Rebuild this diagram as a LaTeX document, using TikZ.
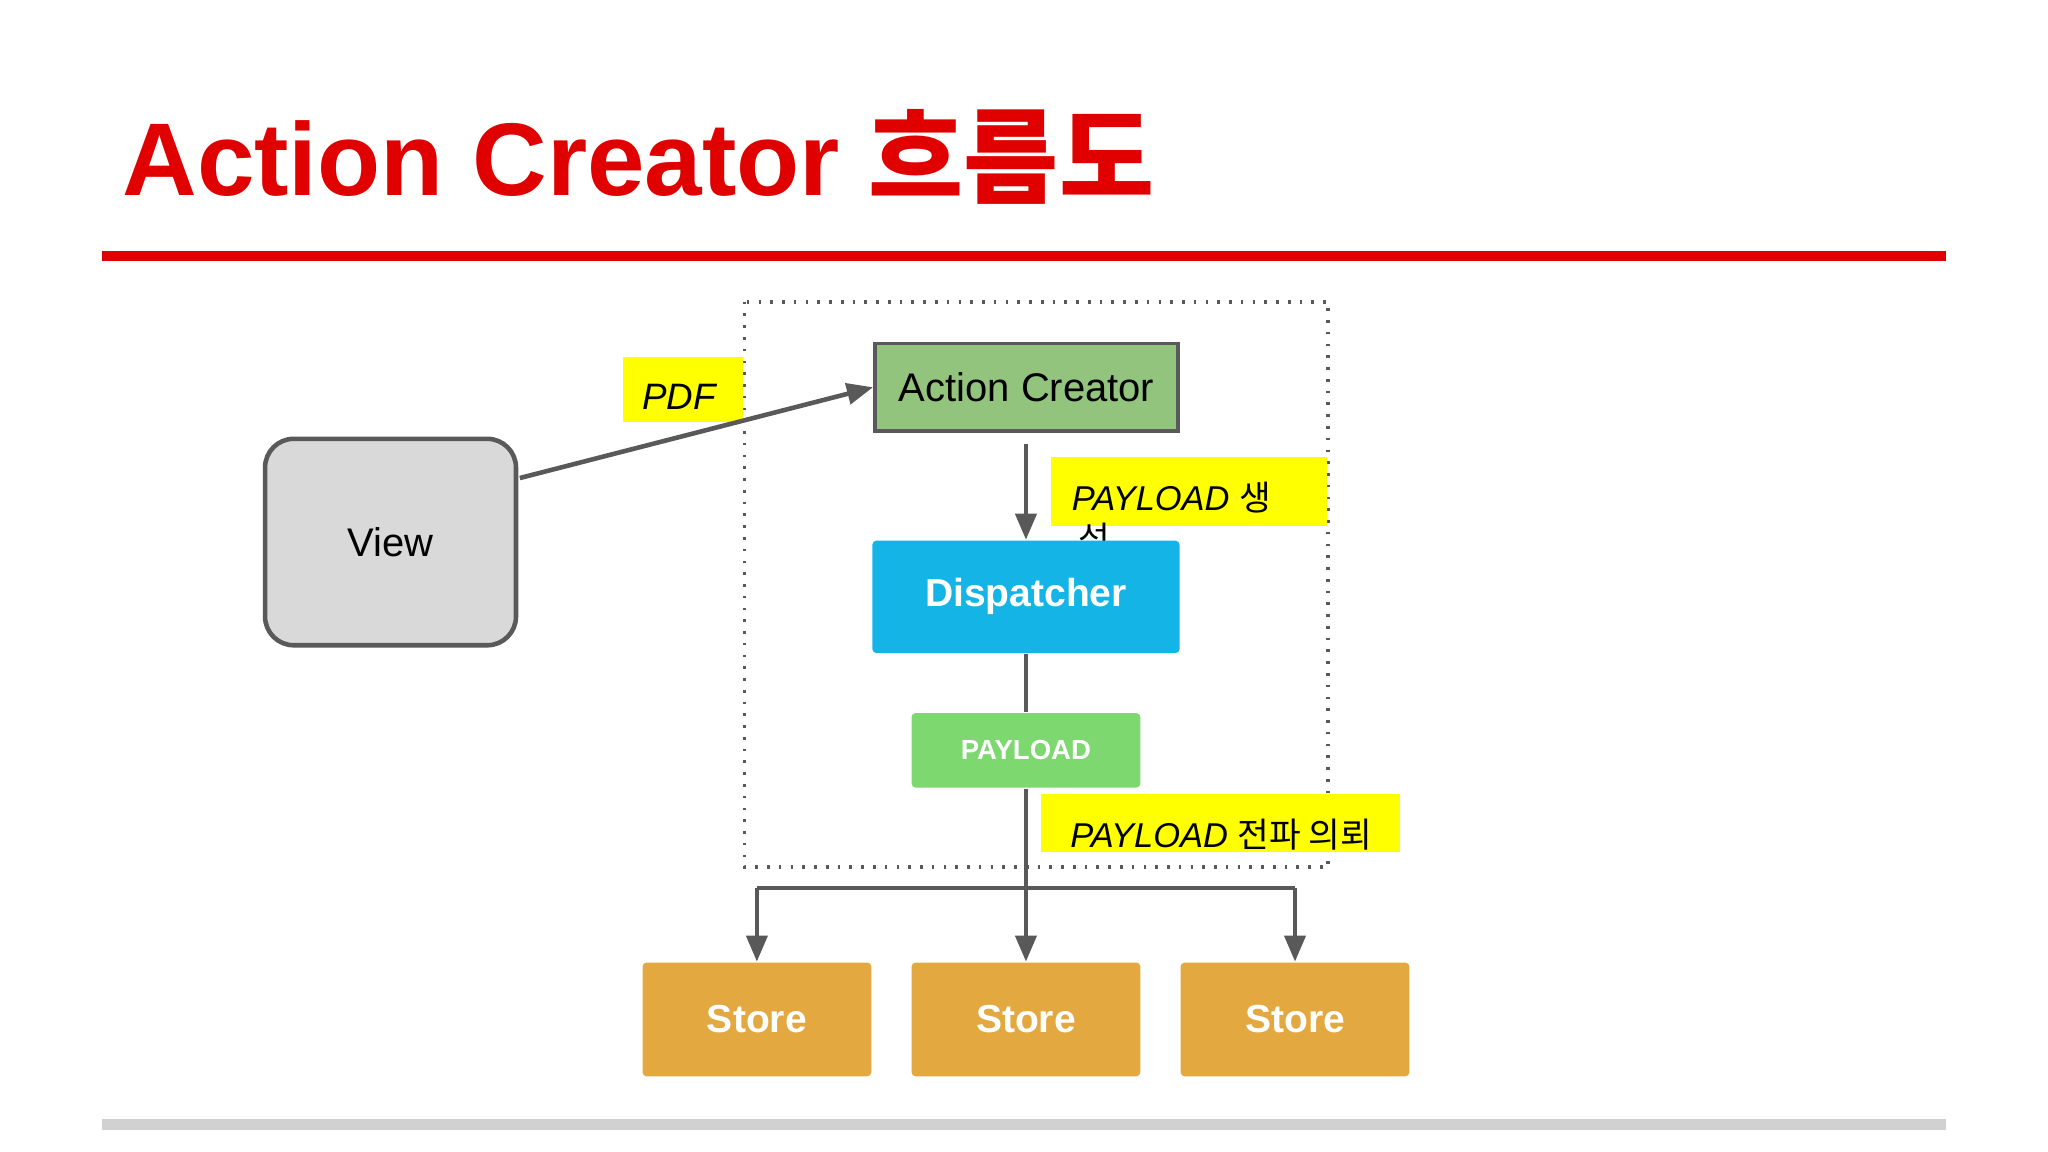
\documentclass[tikz,border=0pt]{standalone}
\usepackage{fontspec}
\setmainfont{Liberation Sans}
\newfontfamily\kr{Noto Sans CJK KR}
\usetikzlibrary{arrows.meta}
\definecolor{tred}{HTML}{E00000}
\definecolor{agreen}{HTML}{93C47D}
\definecolor{dblue}{HTML}{14B4E6}
\definecolor{pgreen}{HTML}{7ED870}
\definecolor{sorange}{HTML}{E4A840}
\definecolor{dgray}{HTML}{595959}
\definecolor{ylw}{HTML}{FFFF00}
\tikzset{
  conn/.style={draw=dgray, line width=0.035cm},
  arr/.style={conn, -{Triangle[length=0.2cm,width=0.16cm]}},
  ylab/.style={inner sep=0pt, align=left, font=\fontsize{7.5}{8}\selectfont\itshape},
  store/.style={fill=sorange, rounded corners=0.03cm, minimum width=1.75cm, minimum height=0.87cm, text=white, font=\fontsize{8.5}{10}\selectfont\bfseries},
}
\begin{document}
\begin{tikzpicture}[x=0.01cm,y=-0.01cm]
\useasboundingbox (0,0) rectangle (1568,882);
\fill[white] (0,0) rectangle (1568,882);
\node[anchor=base west, text=tred, inner sep=0pt, font=\fontsize{22.5}{26}\selectfont\bfseries] (title) at (93,150) {Action Creator {\kr 흐름도}};
\fill[tred] (78,192) rectangle (1490,200);
\fill[black!18] (78,857) rectangle (1490,865);
\draw[dgray, line width=0.03cm, dash pattern=on 0.02cm off 0.07cm] (570,231) rectangle (1017,664);
\node[fill=ylw, minimum width=0.92cm, minimum height=0.5cm, inner sep=0pt] (pdfbg) at (523,298) {};
\node[font=\fontsize{8}{9}\selectfont\itshape, inner sep=0pt] (pdf) at (520,304) {PDF};
\node[fill=agreen, draw=dgray, line width=0.03cm, minimum width=2.32cm, minimum height=0.67cm, font=\fontsize{8.7}{10}\selectfont] (ac) at (786,296.5) {Action Creator};
\node[fill=black!15, draw=dgray, line width=0.035cm, rounded corners=0.22cm, minimum width=1.92cm, minimum height=1.58cm, font=\fontsize{8.7}{10}\selectfont] (view) at (299,415) {View};
\coordinate (vs) at (398,366);
\draw[arr] (vs) -- (ac.west);
\node[fill=ylw, minimum width=2.11cm, minimum height=0.53cm, inner sep=0pt] (p1bg) at (910.5,376.5) {};
\node[ylab, anchor=north west] (p1) at (820,368) {PAYLOAD {\kr 생}\\[1pt]\hspace{0.05cm}{\kr 성}};
\node[fill=dblue, rounded corners=0.03cm, minimum width=2.35cm, minimum height=0.86cm, text=white, font=\fontsize{8.5}{10}\selectfont\bfseries] (disp) at (785.5,457) {Dispatcher};
\coordinate (a1) at (785.5,340);
\draw[arr] (a1) -- (disp.north -| a1);
\node[fill=pgreen, rounded corners=0.03cm, minimum width=1.75cm, minimum height=0.57cm, text=white, font=\fontsize{6}{7}\selectfont\bfseries] (pl) at (785.5,574.5) {PAYLOAD};
\node[store] (s1) at (579.5,780.5) {Store};
\node[store] (s2) at (785.5,780.5) {Store};
\node[store] (s3) at (991.5,780.5) {Store};
\coordinate (j) at (785.5,680);
\draw[conn] (disp.south) -- (pl.north);
\draw[conn] (pl.south) -- (j);
\node[fill=ylw, minimum width=2.75cm, minimum height=0.44cm, inner sep=0pt] (p2bg) at (934.5,630) {};
\node[ylab] (p2) at (935,639) {PAYLOAD {\kr 전파 의뢰}};
\draw[conn] (s1.north |- j) -- (s3.north |- j);
\draw[arr] (s1.north |- j) -- (s1.north);
\draw[arr] (j) -- (s2.north);
\draw[arr] (s3.north |- j) -- (s3.north);
\end{tikzpicture}
\end{document}
